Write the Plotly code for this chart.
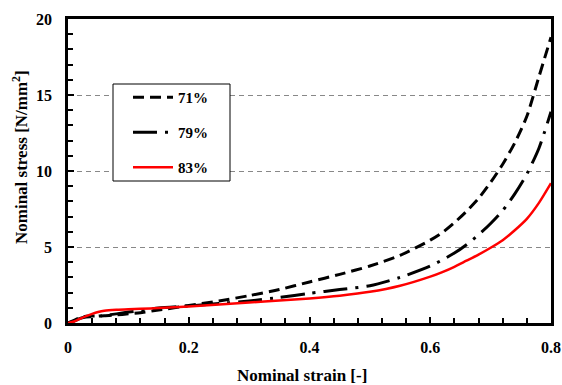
import plotly.graph_objects as go

# ---- data ----
strain = [0, 0.01, 0.02, 0.03, 0.04, 0.05, 0.06, 0.08, 0.10, 0.12, 0.15, 0.20,
          0.25, 0.30, 0.35, 0.40, 0.45, 0.50, 0.55, 0.60, 0.62, 0.64, 0.66,
          0.68, 0.70, 0.72, 0.74, 0.76, 0.78, 0.80]

stress_71 = [0, 0.18, 0.36, 0.45, 0.46, 0.46, 0.47, 0.53, 0.60, 0.68, 0.85, 1.15,
             1.45, 1.80, 2.20, 2.70, 3.20, 3.75, 4.45, 5.45, 5.95, 6.60, 7.35,
             8.20, 9.25, 10.45, 11.85, 13.6, 16.2, 18.8]

stress_79 = [0, 0.12, 0.30, 0.40, 0.42, 0.45, 0.50, 0.60, 0.72, 0.82, 0.98, 1.12,
             1.28, 1.45, 1.68, 1.95, 2.20, 2.45, 3.00, 3.75, 4.15, 4.60, 5.15,
             5.80, 6.55, 7.40, 8.50, 9.80, 11.5, 13.9]

stress_83 = [0, 0.10, 0.28, 0.45, 0.60, 0.72, 0.80, 0.87, 0.91, 0.94, 0.98, 1.08,
             1.22, 1.35, 1.48, 1.62, 1.80, 2.05, 2.45, 3.05, 3.35, 3.70, 4.10,
             4.50, 4.95, 5.45, 6.10, 6.85, 7.90, 9.20]

series_names = ["71%", "79%", "83%"]

x_ticks = [0, 0.2, 0.4, 0.6, 0.8]
x_ticklabels = ["0", "0.2", "0.4", "0.6", "0.8"]
y_ticks = [0, 5, 10, 15, 20]
y_ticklabels = ["0", "5", "10", "15", "20"]

x_title = "Nominal strain [-]"
y_title = "Nominal stress [N/mm<sup>2</sup>]"

FONT = "Times New Roman, Liberation Serif, Times, serif"

fig = go.Figure()

styles = [
    dict(color="black", width=3, dash="11px,6px"),
    dict(color="black", width=3, dash="24px,8px,3px,8px"),
    dict(color="#ff0000", width=2.5, dash="solid"),
]
for name, ys, st in zip(series_names, [stress_71, stress_79, stress_83], styles):
    fig.add_trace(go.Scatter(
        x=strain, y=ys, mode="lines", name="<b>" + name + "</b>", legendgroup=name,
        line=dict(color=st["color"], width=st["width"], dash=st["dash"],
                  shape="spline", smoothing=0.7),
    ))

W, H = 562, 385
# plot area in page pixels
PX0, PX1, PY0, PY1 = 68, 551, 19, 323
L, T = PX0, PY0
R = W - PX1
B = H - PY1
pw, ph = PX1 - PX0, PY1 - PY0

def px_x(p):
    return (p - PX0) / pw

def px_y(p):
    return (PY1 - p) / ph

# legend frame
fig.add_shape(type="rect", xref="paper", yref="paper",
              x0=px_x(113), x1=px_x(230), y0=px_y(181), y1=px_y(84),
              line=dict(color="black", width=1), fillcolor="white", layer="above")

# axis titles
fig.add_annotation(text="<b>" + x_title + "</b>", xref="paper", yref="paper",
                   x=px_x(302), y=px_y(375), xanchor="center", yanchor="middle",
                   showarrow=False, font=dict(family=FONT, size=17, color="black"))
fig.add_annotation(text="<b>" + y_title + "</b>", xref="paper", yref="paper",
                   x=px_x(20), y=px_y(157), xanchor="center", yanchor="middle",
                   textangle=-90, showarrow=False,
                   font=dict(family=FONT, size=17, color="black"))

fig.update_layout(
    width=W, height=H,
    margin=dict(l=L, r=R, t=T, b=B, autoexpand=False),
    paper_bgcolor="white", plot_bgcolor="white",
    font=dict(family=FONT, size=16, color="black"),
    showlegend=True,
    legend=dict(x=px_x(128), y=px_y(81), xanchor="left", yanchor="top",
                bgcolor="rgba(0,0,0,0)", borderwidth=0,
                font=dict(family=FONT, size=15, color="black"),
                itemwidth=40, tracegroupgap=12.5),
    xaxis=dict(
        range=[0, 0.8], tickvals=x_ticks, ticktext=["<b>" + t + "</b>" for t in x_ticklabels],
        ticks="inside", ticklen=6, tickwidth=2, tickcolor="black",
        minor=dict(dtick=0.04, ticks="inside", ticklen=5, tickwidth=2, tickcolor="black"),
        showline=True, linewidth=2.5, linecolor="black", mirror=True,
        showgrid=False, zeroline=False, automargin=False,
        tickfont=dict(family=FONT, size=16), ticklabeloverflow="allow",
        ticklabelstandoff=8,
    ),
    yaxis=dict(
        range=[0, 20], tickvals=y_ticks, ticktext=["<b>" + t + "</b>" for t in y_ticklabels],
        ticks="inside", ticklen=6, tickwidth=2, tickcolor="black",
        minor=dict(dtick=1, ticks="inside", ticklen=5, tickwidth=2, tickcolor="black"),
        showline=True, linewidth=2.5, linecolor="black", mirror=True,
        showgrid=True, gridcolor="#888888", gridwidth=1, griddash="5px,4px",
        zeroline=False, automargin=False,
        tickfont=dict(family=FONT, size=16),
        ticklabelstandoff=10,
    ),
)

fig.write_html(
    "out.html",
    config={"displayModeBar": False},
    post_script="document.body.style.margin='0';document.body.style.overflow='hidden';",
)
